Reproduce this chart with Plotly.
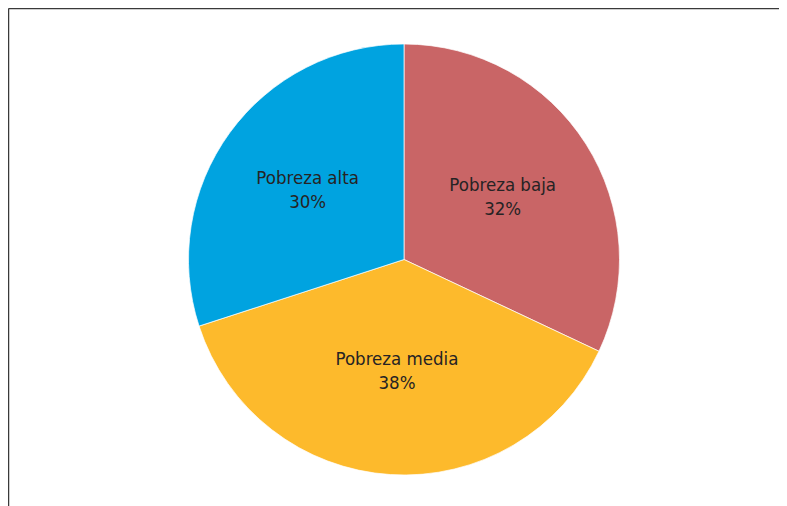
import plotly.graph_objects as go

labels = ["Pobreza baja", "Pobreza media", "Pobreza alta"]
values = [32, 38, 30]
colors = ["#C96566", "#FDBA2C", "#00A3E0"]

# page body adds an 8px offset; work in reference pixel coords minus 8
OFF = 8
W, H = 787 - OFF, 506 - OFF


def px(x):
    return (x - OFF) / W


def py(y):
    return 1 - (y - OFF) / H


fig = go.Figure(go.Pie(
    labels=labels,
    values=values,
    sort=False,
    direction="clockwise",
    rotation=0,
    marker=dict(colors=colors, line=dict(color="white", width=0.7)),
    texttemplate="%{label}<br>%{percent:.0%}",
    textposition="inside",
    insidetextorientation="horizontal",
    textfont=dict(family="DejaVu Sans Condensed, Liberation Sans Narrow, sans-serif", size=18.5, color="#262324"),
    showlegend=False,
    hoverinfo="label+percent",
    domain=dict(x=[px(188), px(620)], y=[py(475), py(44)]),
))

fig.update_layout(
    width=W, height=H,
    margin=dict(l=0, r=0, t=0, b=0),
    paper_bgcolor="white",
    plot_bgcolor="white",
    shapes=[
        dict(type="line", xref="paper", yref="paper", x0=0.5 / W, x1=1, y0=1 - 0.5 / H, y1=1 - 0.5 / H,
             line=dict(color="#3a3a3a", width=1.5)),
        dict(type="line", xref="paper", yref="paper", x0=0.5 / W, x1=0.5 / W, y0=1 - 0.5 / H, y1=0,
             line=dict(color="#3a3a3a", width=1.5)),
    ],
)

fig.write_html("out.html")
